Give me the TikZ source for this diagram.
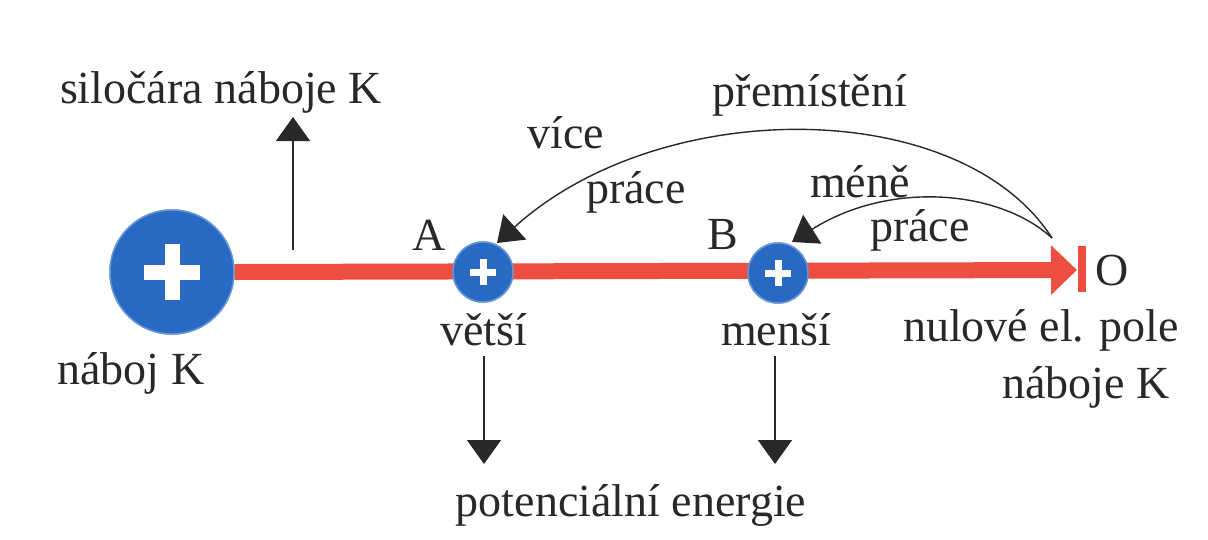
\documentclass[tikz,border=0pt]{standalone}
\usepackage{fontspec}
\setmainfont{Liberation Serif}
\usetikzlibrary{arrows.meta}
\definecolor{chargeblue}{RGB}{40,105,195}
\definecolor{fieldred}{RGB}{238,78,66}
\definecolor{ink}{RGB}{40,40,40}
\begin{document}
\begin{tikzpicture}[x=1pt,y=-1pt,
  lbl/.style={font=\fontsize{46}{50}\selectfont, inner sep=0pt, text=ink},
  charge/.style={circle, fill=chargeblue, draw=chargeblue!70!white, line width=1.5pt, inner sep=0pt},
  tri/.style={draw=ink, -{Triangle[length=24pt,width=34pt]}, line width=1.4pt},
  plus/.style={white, line width=#1}]
\useasboundingbox (0,0) rectangle (1208,539);
% nodes
\node[charge, minimum size=124pt] (K) at (172,272) {};
\node[charge, minimum size=60pt] (A) at (483,272) {};
\node[charge, minimum size=60pt] (B) at (778,273) {};
\coordinate (tip) at (1077,270);
\coordinate (bt) at (1082,246);
\coordinate (bb) at (1082,292);
% field line
\draw[fieldred, line width=16pt, -{Triangle[length=26pt,width=48pt]}] (K.east) -- (tip);
\draw[fieldred, line width=8pt] (bt) -- (bb);
% charges on top
\node[charge, minimum size=124pt] at (K) {};
\node[charge, minimum size=60pt] at (A) {};
\node[charge, minimum size=60pt] at (B) {};
\draw[plus=15pt] ([xshift=-28pt]K.center) -- ([xshift=28pt]K.center);
\draw[plus=15pt] ([yshift=-28pt]K.center) -- ([yshift=28pt]K.center);
\draw[plus=7pt] ([xshift=-13pt]A.center) -- ([xshift=13pt]A.center);
\draw[plus=7pt] ([yshift=-13pt]A.center) -- ([yshift=13pt]A.center);
\draw[plus=7pt] ([xshift=-13pt]B.center) -- ([xshift=13pt]B.center);
\draw[plus=7pt] ([yshift=-13pt]B.center) -- ([yshift=13pt]B.center);
% labels
\node[lbl] (tsil) at (221,92) {siločára náboje K};
\node[lbl] (tK) at (131,373) {náboj K};
\node[lbl] (tA) at (429,235) {A};
\node[lbl] (tB) at (723,235) {B};
\node[lbl] (tO) at (1112,270) {O};
\node[lbl] (tvet) at (484,330) {větší};
\node[lbl] (tmen) at (776,330) {menší};
\node[lbl] (tnul) at (1041,330) {nulové el. pole};
\node[lbl] (tnab) at (1086,387) {náboje K};
\node[lbl] (tpot) at (631,505) {potenciální energie};
\node[lbl] (tprem) at (810,95) {přemístění};
\node[lbl] (tvic) at (566,133) {více};
\node[lbl] (tpr1) at (636,192) {práce};
\node[lbl] (tmene) at (860,182) {méně};
\node[lbl] (tpr2) at (920,230) {práce};
% arrows
\coordinate (upb) at (293,250);
\coordinate (upt) at (293,117);
\draw[tri] (upb) -- (upt);
\coordinate (d1b) at (484,356);
\coordinate (d1t) at (484,464);
\coordinate (d2b) at (775,356);
\coordinate (d2t) at (775,464);
\draw[tri] (d1b) -- (d1t);
\draw[tri] (d2b) -- (d2t);
\coordinate (src) at (1052,238);
\coordinate (ea) at (497,243);
\coordinate (eb) at (792,242);
\draw[tri] (src) .. controls (960,95) and (660,95) .. (ea);
\draw[tri] (src) .. controls (1000,190) and (890,180) .. (eb);
\end{tikzpicture}
\end{document}
